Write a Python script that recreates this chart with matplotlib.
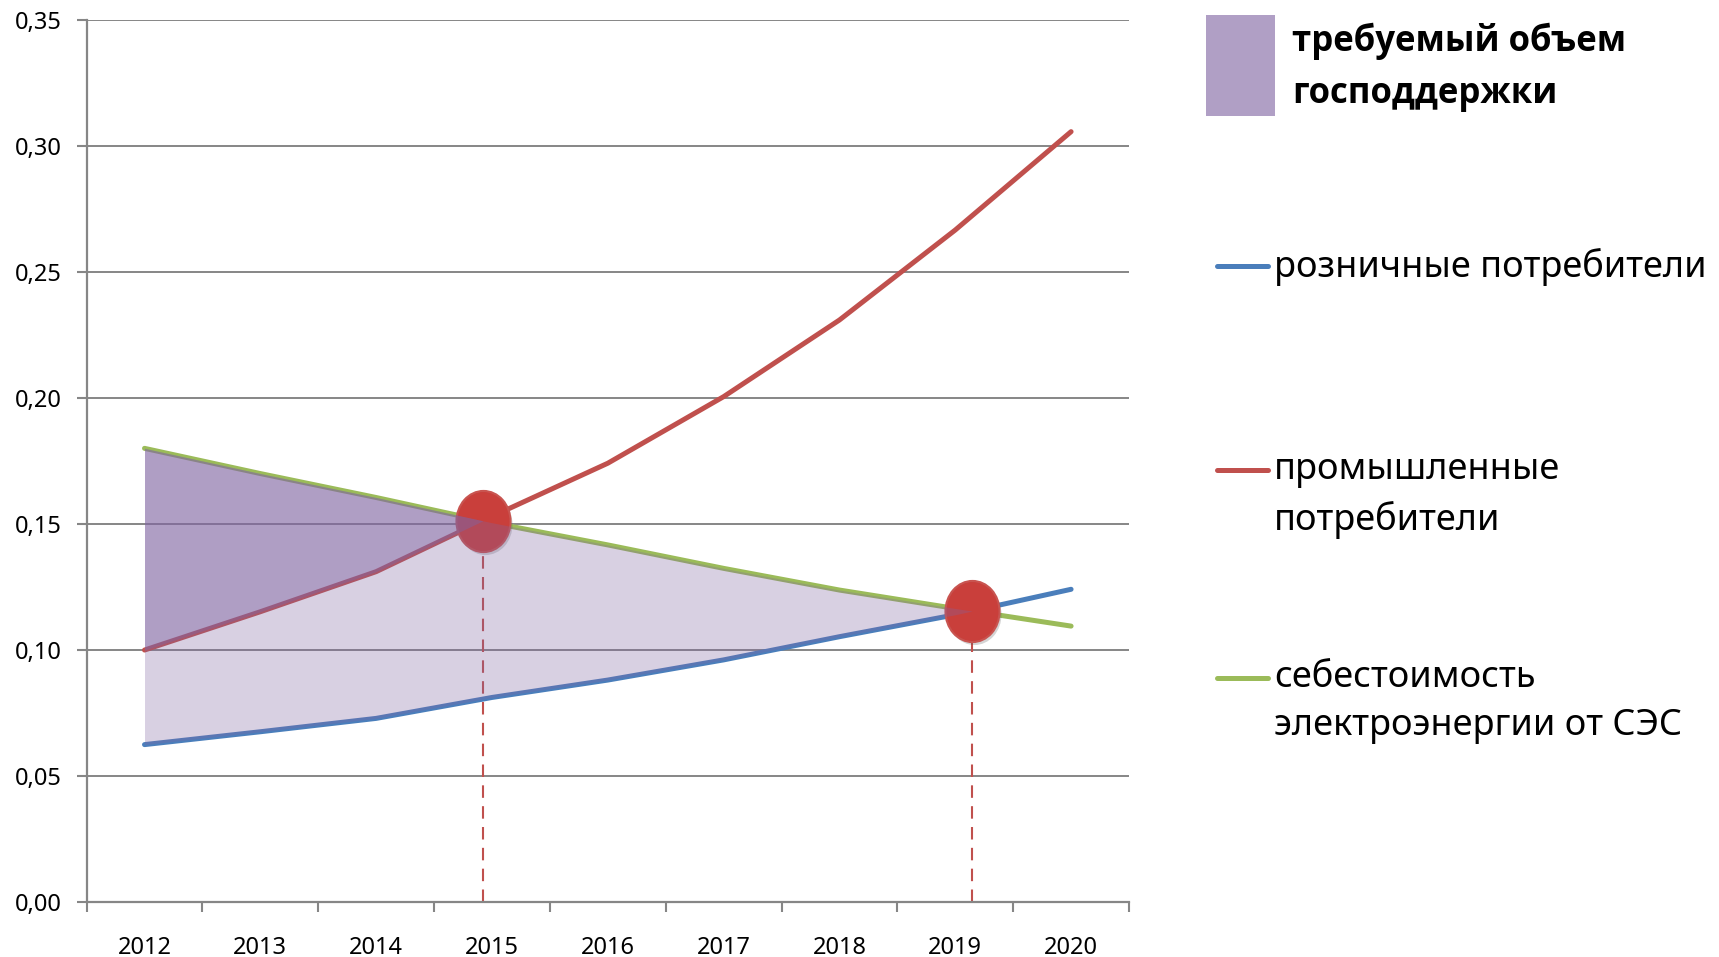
import matplotlib
matplotlib.use('Agg')
import matplotlib.pyplot as plt
import matplotlib.path as mpath
import matplotlib.patches as mpatches
import matplotlib.lines as mlines
import matplotlib.transforms as mtransforms
import numpy as np

# --- data ---
years      = ['2012', '2013', '2014', '2015', '2016', '2017', '2018', '2019', '2020']
retail     = [0.0625, 0.0676, 0.0729, 0.0812, 0.0881, 0.0961, 0.1053, 0.1140, 0.1241]
industrial = [0.1000, 0.1152, 0.1311, 0.1530, 0.1741, 0.2005, 0.2309, 0.2666, 0.3056]
ses_cost   = [0.1800, 0.1700, 0.1605, 0.1505, 0.1417, 0.1324, 0.1238, 0.1165, 0.1095]
y_ticks    = [0.00, 0.05, 0.10, 0.15, 0.20, 0.25, 0.30, 0.35]

LBL_SUPPORT    = 'требуемый объем\nгосподдержки'
LBL_RETAIL     = 'розничные потребители'
LBL_INDUSTRIAL = 'промышленные\nпотребители'
LBL_COST       = 'себестоимость\nэлектроэнергии от СЭС'

COLOR_RETAIL     = '#4a7ebb'
COLOR_INDUSTRIAL = '#c0504d'
COLOR_COST       = '#9bbb59'
COLOR_SUPPORT    = '#8064a2'
COLOR_GRID       = '#868686'
COLOR_MARKER     = '#c93f3b'

FONT      = ['Noto Sans', 'DejaVu Sans']
FONT_BOLD = ['Open Sans', 'DejaVu Sans']

W, H = 1719, 957


def crossing(a, b):
    """First point where series a and b cross (linear segments)."""
    a, b = np.asarray(a), np.asarray(b)
    d = a - b
    i = np.where(np.sign(d[:-1]) != np.sign(d[1:]))[0][0]
    t = d[i] / (d[i] - d[i + 1])
    return i + t, a[i] + t * (a[i + 1] - a[i])


def band(x, upper, lower, xc):
    xs = np.append(x[x < xc], xc)
    return xs, np.interp(xs, x, upper), np.interp(xs, x, lower)


fig = plt.figure(figsize=(W / 100, H / 100), dpi=100)
ax = fig.add_axes([86.6 / W, 1 - 902.2 / H, (1129 - 86.6) / W, (902.2 - 19.7) / H])

x = np.arange(len(years), dtype=float)

ax.plot(x, retail, color=COLOR_RETAIL, lw=3.6, solid_capstyle='round', zorder=3)
ax.plot(x, industrial, color=COLOR_INDUSTRIAL, lw=3.6, solid_capstyle='round', zorder=3)
ax.plot(x, ses_cost, color=COLOR_COST, lw=3.6, solid_capstyle='round', zorder=3)

# crossing points of the SES cost with the tariffs
x1, y1 = crossing(ses_cost, industrial)
x2, y2 = crossing(ses_cost, retail)

circ = mpath.Path.unit_circle()
egg = mpath.Path(circ.vertices * np.array([1.0, 1.13]), circ.codes)
shadow_tr = mtransforms.offset_copy(ax.transData, fig=fig, x=2, y=-3, units='dots')
for xc, yc in [(x1, y1), (x2, y2)]:
    ax.plot([xc, xc], [0, yc], color=COLOR_INDUSTRIAL, lw=1.5,
            dashes=(6, 4), zorder=2)
    ax.plot(xc, yc, marker=egg, ms=44, color='#555555', alpha=0.25, mew=0,
            transform=shadow_tr, zorder=4)
    ax.plot(xc, yc, marker=egg, ms=44, color=COLOR_MARKER,
            markeredgecolor='#c85450', mew=1.5, zorder=5)

# support area: light band (cost vs retail), darker band (cost vs industrial)
xs, up, lo = band(x, ses_cost, retail, x2)
ax.fill_between(xs, lo, up, color=COLOR_SUPPORT, alpha=0.30, lw=0, zorder=6)
xs, up, lo = band(x, ses_cost, industrial, x1)
ax.fill_between(xs, lo, up, color=COLOR_SUPPORT, alpha=0.46, lw=0, zorder=7)

# axes styling
ax.set_xlim(-0.5, len(years) - 0.5)
ax.set_ylim(0, 0.35)
ax.set_xticks(np.arange(len(years) + 1) - 0.5)
ax.set_xticklabels([])
ax.set_xticks(x, minor=True)
ax.set_xticklabels(years, minor=True, fontsize=17, family=FONT)
ax.tick_params(axis='x', which='major', direction='out', length=7,
               width=1.5, color=COLOR_GRID)
ax.tick_params(axis='x', which='minor', length=0, pad=24)
ax.set_yticks(y_ticks)
ax.set_yticklabels([f'{v:.2f}'.replace('.', ',') for v in y_ticks],
                   fontsize=17, family=FONT)
ax.tick_params(axis='y', direction='out', length=7, width=1.5,
               color=COLOR_GRID, pad=11)
ax.grid(axis='y', color=COLOR_GRID, lw=1.4, zorder=1)
ax.set_axisbelow(True)
for side in ('top', 'right'):
    ax.spines[side].set_visible(False)
for side in ('left', 'bottom'):
    ax.spines[side].set_color(COLOR_GRID)
    ax.spines[side].set_linewidth(1.6)

# legend, drawn by hand to get the spacing of the original
def fx(px):
    return px / W


def fy(py):
    return 1 - py / H


fig.patches.append(mpatches.Rectangle((fx(1206), fy(116)), fx(1275) - fx(1206),
                                      fy(15) - fy(116), transform=fig.transFigure,
                                      color=COLOR_SUPPORT, alpha=0.62, lw=0))
fig.text(fx(1292), fy(67), LBL_SUPPORT, fontsize=25, fontweight='bold',
         family=FONT_BOLD, va='center', ha='left', linespacing=1.6)

legend_rows = [
    (COLOR_RETAIL, LBL_RETAIL, 266),
    (COLOR_INDUSTRIAL, LBL_INDUSTRIAL, 470),
    (COLOR_COST, LBL_COST, 678),
]
for color, label, py in legend_rows:
    fig.lines.append(mlines.Line2D([fx(1217), fx(1268)], [fy(py), fy(py)],
                                   transform=fig.transFigure, color=color,
                                   lw=3.6, solid_capstyle='round'))
    fig.text(fx(1274), fy(py - 18), label, fontsize=26, family=FONT,
             va='top', ha='left', linespacing=1.45)

fig.savefig('out.png', dpi=100)
plt.close(fig)
